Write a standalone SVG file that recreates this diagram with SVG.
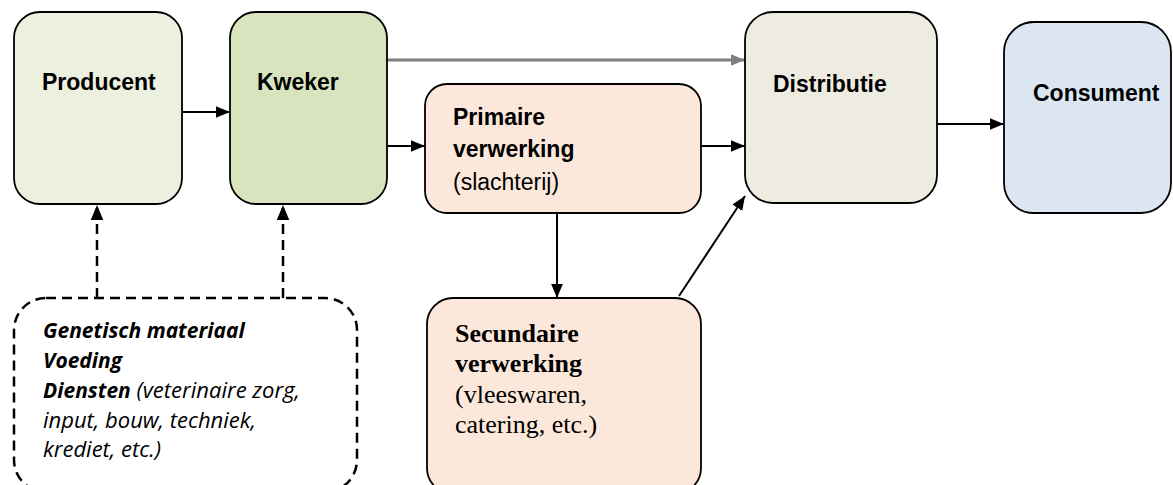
<svg xmlns="http://www.w3.org/2000/svg" width="1173" height="485" viewBox="0 0 1173 485">
<defs>
<style>
.box{stroke:#000;stroke-width:1.8}
.t{font-family:"Liberation Sans",Arial,sans-serif;font-size:23px;fill:#000}
.b{font-weight:bold}
.s{font-family:"Liberation Serif","Times New Roman",serif;font-size:26px;fill:#000}
.d{font-family:"Open Sans","Liberation Sans",sans-serif;font-size:22px;font-style:italic;fill:#000}
.db{font-size:21px;font-weight:bold}
.c{stroke:#000;stroke-width:2;fill:none}
.g{stroke:#7f7f7f;stroke-width:3;fill:none}
.dash{stroke:#000;stroke-width:2.5;fill:none;stroke-dasharray:10 6}
</style>
<marker id="ah" viewBox="0 0 12 10" refX="12" refY="5" markerWidth="14" markerHeight="12" markerUnits="userSpaceOnUse" orient="auto">
<path d="M0,0 L12,5 L0,10 Z" fill="#000"/>
</marker>
<marker id="ahg" viewBox="0 0 12 10" refX="12" refY="5" markerWidth="14" markerHeight="12" markerUnits="userSpaceOnUse" orient="auto">
<path d="M0,0 L12,5 L0,10 Z" fill="#7f7f7f"/>
</marker>
<marker id="ahd" viewBox="0 0 12 10" refX="12" refY="5" markerWidth="15" markerHeight="15" markerUnits="userSpaceOnUse" orient="auto">
<path d="M0,0 L12,5 L0,10 Z" fill="#000"/>
</marker>
</defs>
<rect width="1173" height="485" fill="#fff"/>
<g id="connectors">
<line class="c" x1="182" y1="112" x2="230" y2="112" marker-end="url(#ah)"/>
<line class="g" x1="387" y1="60" x2="745" y2="60" marker-end="url(#ahg)"/>
<line class="c" x1="387" y1="146" x2="425" y2="146" marker-end="url(#ah)"/>
<line class="c" x1="701" y1="146" x2="745" y2="146" marker-end="url(#ah)"/>
<line class="c" x1="937" y1="124" x2="1004" y2="124" marker-end="url(#ah)"/>
<line class="c" x1="557" y1="213" x2="557" y2="298" marker-end="url(#ah)"/>
<line class="c" x1="679" y1="296" x2="745" y2="196" marker-end="url(#ah)"/>
<line class="dash" x1="97" y1="298" x2="97" y2="205" marker-end="url(#ahd)"/>
<line class="dash" x1="283" y1="298" x2="283" y2="205" marker-end="url(#ahd)"/>
</g>
<g id="producent">
<rect class="box" x="14" y="12" width="168" height="192" rx="26" fill="#EBF1DE"/>
<text class="t b" x="42" y="90">Producent</text>
</g>
<g id="kweker">
<rect class="box" x="230" y="12" width="157" height="192" rx="26" fill="#D7E4BD"/>
<text class="t b" x="257" y="90">Kweker</text>
</g>
<g id="primaire">
<rect class="box" x="425" y="84" width="276" height="129" rx="22" fill="#FCE8DA"/>
<text class="t b" x="453" y="125">Primaire</text>
<text class="t b" x="453" y="157">verwerking</text>
<text class="t" x="453" y="190">(slachterij)</text>
</g>
<g id="distributie">
<rect class="box" x="745" y="12" width="192" height="191" rx="28" fill="#EEECE1"/>
<text class="t b" x="773" y="92">Distributie</text>
</g>
<g id="consument">
<rect class="box" x="1004" y="22" width="167" height="191" rx="30" fill="#DCE6F2"/>
<text class="t b" x="1033" y="101">Consument</text>
</g>
<g id="secundaire">
<rect class="box" x="427" y="298" width="274" height="196" rx="26" fill="#FCE8DA"/>
<text class="s b" x="455" y="342">Secundaire</text>
<text class="s b" x="455" y="372">verwerking</text>
<text class="s" x="455" y="403">(vleeswaren,</text>
<text class="s" x="455" y="433">catering, etc.)</text>
</g>
<g id="inputs">
<rect class="dash" x="14" y="298" width="343" height="194" rx="32"/>
<text class="d db" x="43" y="338">Genetisch materiaal</text>
<text class="d db" x="43" y="368">Voeding</text>
<text class="d" x="43" y="398"><tspan class="db">Diensten</tspan> (veterinaire zorg,</text>
<text class="d" x="43" y="428">input, bouw, techniek,</text>
<text class="d" x="43" y="457">krediet, etc.)</text>
</g>
</svg>
